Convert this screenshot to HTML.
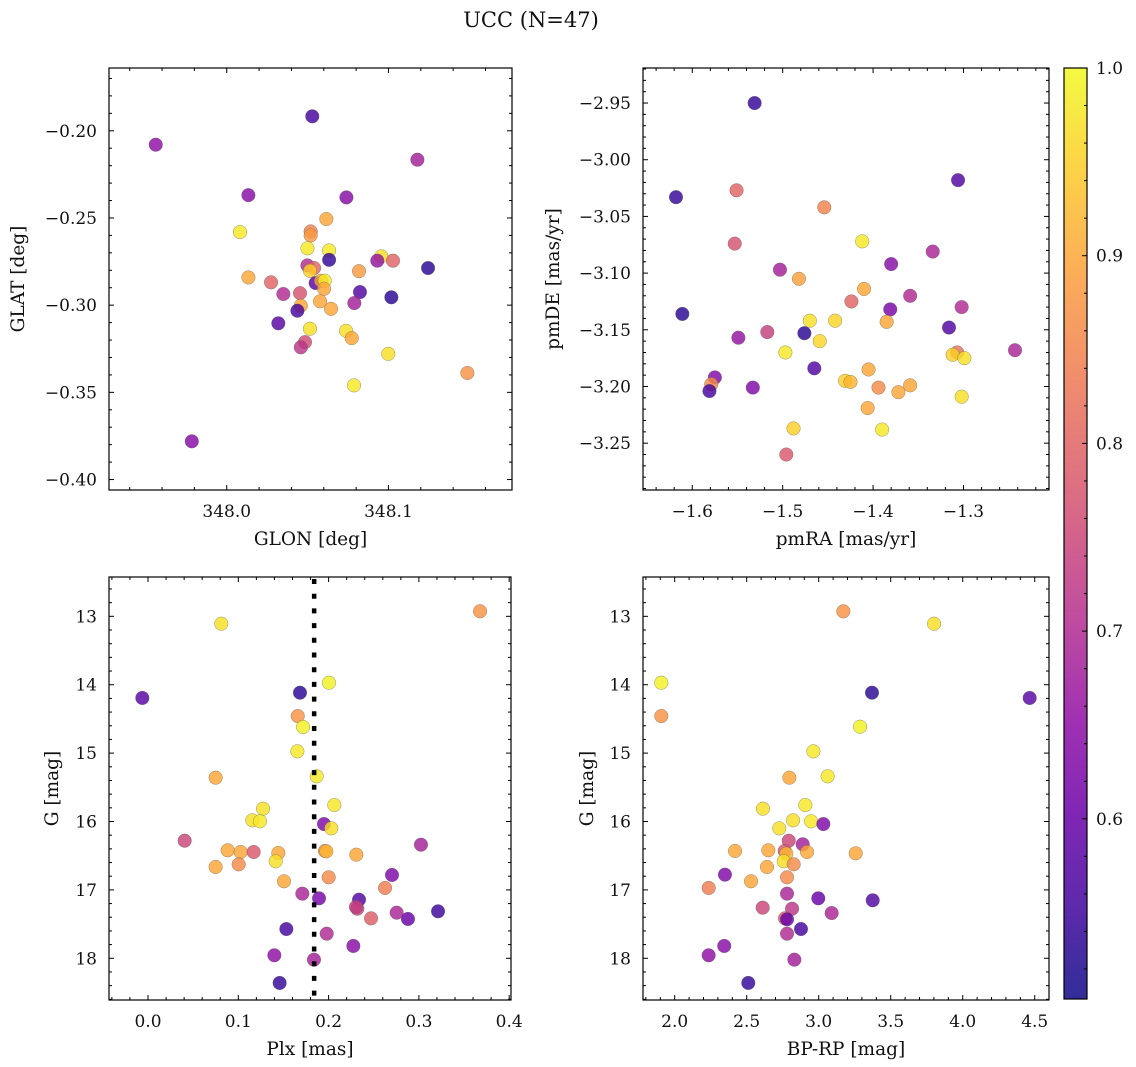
<!DOCTYPE html>
<html><head><meta charset="utf-8"><style>
html,body{margin:0;padding:0;background:#fff;}
svg{display:block;font-family:"DejaVu Serif","Liberation Serif",serif;}
</style></head><body>
<svg id="fig" width="1136" height="1067" viewBox="0 0 1136 1067" xmlns="http://www.w3.org/2000/svg">
<text x="531" y="27" font-size="21" text-anchor="middle" fill="#111">UCC (N=47)</text>
</svg>
<script>
// ---- Panel 1 data: GLON / GLAT / membership probability
const glonP1=[348.0529,347.9561,348.1179,348.0134,348.0740,348.0616,348.0082,348.0519,348.0519,348.0499,348.0633,348.0633,348.0956,348.0931,348.1028,348.1245,348.0499,348.0540,348.0515,348.0818,348.0134,348.0274,348.0550,348.0583,348.0606,348.0602,348.0350,348.0453,348.0824,348.0577,348.1018,348.0789,348.0458,348.0437,348.0645,348.0319,348.0515,348.0738,348.0773,348.0484,348.0458,348.0999,348.1488,348.0787,347.9784];
const glatP1=[-0.1917,-0.2080,-0.2166,-0.2369,-0.2382,-0.2506,-0.2581,-0.2577,-0.2600,-0.2674,-0.2686,-0.2740,-0.2720,-0.2745,-0.2745,-0.2787,-0.2772,-0.2787,-0.2803,-0.2805,-0.2841,-0.2869,-0.2873,-0.2860,-0.2860,-0.2906,-0.2936,-0.2931,-0.2925,-0.2978,-0.2955,-0.2988,-0.3003,-0.3032,-0.3021,-0.3104,-0.3135,-0.3147,-0.3189,-0.3212,-0.3242,-0.3279,-0.3389,-0.3460,-0.3781];
const probP1=[0.56,0.65,0.68,0.64,0.64,0.9,0.98,0.85,0.88,0.98,0.98,0.54,0.97,0.66,0.8,0.53,0.7,0.8,0.95,0.88,0.9,0.8,0.58,0.9,0.98,0.9,0.7,0.77,0.57,0.9,0.53,0.68,0.9,0.56,0.9,0.58,0.97,0.97,0.9,0.76,0.72,0.97,0.87,0.98,0.64];
// ---- Panel 2 data: pmRA / pmDE
const pmraP2=[-1.531,-1.306,-1.618,-1.551,-1.454,-1.553,-1.412,-1.334,-1.380,-1.503,-1.482,-1.410,-1.359,-1.424,-1.381,-1.302,-1.611,-1.470,-1.442,-1.385,-1.316,-1.476,-1.517,-1.549,-1.459,-1.497,-1.307,-1.312,-1.299,-1.243,-1.465,-1.405,-1.575,-1.579,-1.581,-1.431,-1.425,-1.533,-1.394,-1.372,-1.359,-1.302,-1.406,-1.488,-1.390,-1.496];
const pmdeP2=[-2.950,-3.018,-3.033,-3.027,-3.042,-3.074,-3.072,-3.081,-3.092,-3.097,-3.105,-3.114,-3.120,-3.125,-3.132,-3.130,-3.136,-3.142,-3.142,-3.143,-3.148,-3.153,-3.152,-3.157,-3.160,-3.170,-3.170,-3.172,-3.175,-3.168,-3.184,-3.185,-3.192,-3.198,-3.204,-3.195,-3.196,-3.201,-3.201,-3.205,-3.199,-3.209,-3.219,-3.237,-3.238,-3.260];
const probP2=[0.54,0.57,0.54,0.8,0.85,0.77,0.98,0.69,0.64,0.68,0.89,0.9,0.7,0.8,0.62,0.7,0.53,0.97,0.96,0.9,0.57,0.53,0.74,0.66,0.96,0.98,0.82,0.95,0.97,0.69,0.57,0.9,0.63,0.86,0.56,0.95,0.92,0.63,0.86,0.9,0.9,0.97,0.9,0.95,0.98,0.78];
// ---- Panel 3 data: Plx / G
const plxP3=[0.3677,0.0812,-0.0063,0.1683,0.2004,0.1658,0.1717,0.1654,0.0749,0.1868,0.1274,0.2063,0.1155,0.1240,0.1949,0.2030,0.0406,0.3023,0.0882,0.1026,0.1170,0.1443,0.1960,0.1975,0.2307,0.1414,0.0749,0.1004,0.2702,0.2001,0.1506,0.2625,0.1709,0.1894,0.2337,0.2318,0.2303,0.2470,0.2754,0.2879,0.3212,0.1532,0.1979,0.2274,0.1399,0.1838,0.1458];
const gP3=[12.927,13.108,14.194,14.117,13.971,14.458,14.618,14.974,15.359,15.339,15.813,15.759,15.983,15.997,16.037,16.100,16.281,16.339,16.421,16.446,16.446,16.460,16.431,16.436,16.485,16.582,16.665,16.626,16.782,16.816,16.874,16.972,17.055,17.123,17.143,17.275,17.25,17.416,17.333,17.425,17.313,17.572,17.640,17.820,17.956,18.020,18.361];
const probP3=[0.87,0.97,0.58,0.53,0.99,0.87,0.99,0.98,0.9,0.98,0.97,0.98,0.97,0.98,0.63,0.97,0.75,0.68,0.9,0.9,0.78,0.9,0.87,0.92,0.9,0.97,0.9,0.86,0.63,0.86,0.9,0.84,0.69,0.62,0.57,0.75,0.73,0.79,0.69,0.6,0.55,0.56,0.7,0.64,0.65,0.68,0.54];
const plxMarker=[0.184];
// ---- Panel 4 data: BP-RP / G
const bprpP4=[3.171,3.801,1.907,1.907,3.370,4.465,3.287,2.963,2.796,3.062,2.613,2.907,2.822,2.947,3.032,2.726,2.792,2.889,2.419,2.650,2.764,2.919,2.775,3.257,2.757,2.641,2.826,2.349,2.780,2.530,2.236,2.780,2.997,3.375,2.611,2.815,3.090,2.766,2.780,2.877,2.780,2.344,2.236,2.831,2.511];
const gP4=[12.927,13.108,13.971,14.458,14.117,14.194,14.614,14.974,15.359,15.339,15.813,15.759,15.983,15.997,16.037,16.100,16.281,16.333,16.431,16.421,16.431,16.446,16.470,16.465,16.582,16.665,16.626,16.777,16.816,16.874,16.972,17.055,17.123,17.152,17.260,17.275,17.338,17.416,17.430,17.572,17.640,17.820,17.956,18.020,18.361];
const probP4=[0.87,0.97,0.99,0.87,0.53,0.58,0.99,0.98,0.9,0.98,0.97,0.98,0.97,0.98,0.63,0.97,0.75,0.68,0.9,0.9,0.78,0.9,0.92,0.9,0.97,0.9,0.86,0.63,0.86,0.9,0.84,0.69,0.6,0.57,0.75,0.72,0.69,0.79,0.6,0.56,0.7,0.64,0.65,0.68,0.54];
// ---- tick labels
const ticksP1x=[348.0,348.1], ticksP1y=[-0.40,-0.35,-0.30,-0.25,-0.20];
const ticksP2x=[-1.6,-1.5,-1.4,-1.3], ticksP2y=[-3.25,-3.20,-3.15,-3.10,-3.05,-3.00,-2.95];
const ticksP3x=[0.0,0.1,0.2,0.3,0.4], ticksGy=[13,14,15,16,17,18];
const ticksP4x=[2.0,2.5,3.0,3.5,4.0,4.5];
const ticksCbar=[0.6,0.7,0.8,0.9,1.0];

const NS="http://www.w3.org/2000/svg";
const svg=document.getElementById('fig');
function mk(tag,attrs,parent){const e=document.createElementNS(NS,tag);for(const k in attrs)e.setAttribute(k,attrs[k]);(parent||svg).appendChild(e);return e;}
const VMIN=0.504,VMAX=1.0;
const PL=[[13,8,135],[65,4,157],[106,0,168],[143,13,164],[177,42,144],[204,71,120],[225,100,98],[242,132,75],[252,166,54],[252,206,37],[240,249,33]];
function plasma(t){t=Math.max(0,Math.min(1,t));const f=t*10,i=Math.min(9,Math.floor(f)),u=f-i;const a=PL[i],b=PL[i+1];return 'rgb('+a.map((v,k)=>Math.round(v+(b[k]-v)*u)).join(',')+')';}
function cmap(p){return plasma((p-VMIN)/(VMAX-VMIN));}

function panel(o){
  const g=mk('g',{});
  
  
  const sx=v=>o.x0+(v-o.xmin)/(o.xmax-o.xmin)*(o.x1-o.x0);
  const sy=o.invert? v=>o.y0+(v-o.ymin)/(o.ymax-o.ymin)*(o.y1-o.y0) : v=>o.y1-(v-o.ymin)/(o.ymax-o.ymin)*(o.y1-o.y0);
  const tg=mk('g',{stroke:'#000','stroke-width':1},g);
  const eps=1e-9;
  function tickRange(min,max,step){const r=[];let s=Math.ceil((min-eps)/step);for(let v=s*step;v<=max+eps;v=(++s)*step)r.push(v);return r;}
  tickRange(o.xmin,o.xmax,o.xminor).forEach(v=>{const x=sx(v);const maj=Math.abs(v/o.xmajor-Math.round(v/o.xmajor))<1e-6;const L=maj?5:3;
    mk('line',{x1:x,x2:x,y1:o.y1,y2:o.y1-L},tg);mk('line',{x1:x,x2:x,y1:o.y0,y2:o.y0+L},tg);});
  tickRange(o.ymin,o.ymax,o.yminor).forEach(v=>{const y=sy(v);const maj=Math.abs(v/o.ymajor-Math.round(v/o.ymajor))<1e-6;const L=maj?5:3;
    mk('line',{x1:o.x0,x2:o.x0+L,y1:y,y2:y},tg);mk('line',{x1:o.x1,x2:o.x1-L,y1:y,y2:y},tg);});
  o.xt.forEach(v=>{const t=mk('text',{x:sx(v),y:o.y1+27,'font-size':17,'text-anchor':'middle',fill:'#111'},g);t.textContent=o.fx(v);
    });
  o.yt.forEach(v=>{const t=mk('text',{x:o.x0-12,y:sy(v)+6,'font-size':17,'text-anchor':'end',fill:'#111'},g);t.textContent=o.fy(v);
    });
  const xl=mk('text',{x:(o.x0+o.x1)/2,y:o.y1+55,'font-size':18.5,'text-anchor':'middle',fill:'#111'},g);xl.textContent=o.xlabel;
  
  const yx=o.ylx,yy=(o.y0+o.y1)/2;
  const yl=mk('text',{x:yx,y:yy,'font-size':18.5,'text-anchor':'middle',fill:'#111',transform:'rotate(-90 '+yx+' '+yy+')'},g);yl.textContent=o.ylabel;
  
  const pg=mk('g',{},g);
  o.xs.forEach((v,i)=>{const c=mk('circle',{cx:sx(v),cy:sy(o.ys[i]),r:6.8,fill:cmap(o.cs[i]),'fill-opacity':0.82,stroke:'#555','stroke-width':0.5,'stroke-opacity':0.6},pg);
    });
  if(o.vline){o.vline.forEach(v=>{const l=mk('line',{x1:sx(v),x2:sx(v),y1:o.y0+2,y2:o.y1,stroke:'#000','stroke-width':4.5,'stroke-dasharray':'5 9.7'},g);
    });}
  mk('rect',{x:o.x0,y:o.y0,width:o.x1-o.x0,height:o.y1-o.y0,fill:'none',stroke:'#000','stroke-width':1.2},g);
}
const f1=v=>v.toFixed(1), f2=v=>v.toFixed(2).replace('-','\u2212'), f1m=v=>v.toFixed(1).replace('-','\u2212'), f0=v=>v.toFixed(0);
panel({name:'panel-glon-glat',x0:109,x1:512,y0:68,y1:490,xmin:347.9272,xmax:348.1764,ymin:-0.4060,ymax:-0.1640,
  xminor:0.02,xmajor:0.1,yminor:0.01,ymajor:0.05,xt:ticksP1x,yt:ticksP1y,fx:f1,fy:f2,xlabel:'GLON [deg]',ylabel:'GLAT [deg]',ylx:24,
  xs:glonP1,ys:glatP1,cs:probP1});
panel({name:'panel-pmra-pmde',x0:643,x1:1049,y0:68,y1:490,xmin:-1.6545,xmax:-1.2054,ymin:-3.2913,ymax:-2.9191,
  xminor:0.02,xmajor:0.1,yminor:0.01,ymajor:0.05,xt:ticksP2x,yt:ticksP2y,fx:f1m,fy:f2,xlabel:'pmRA [mas/yr]',ylabel:'pmDE [mas/yr]',ylx:559,
  xs:pmraP2,ys:pmdeP2,cs:probP2});
panel({name:'panel-plx-g',x0:109,x1:511,y0:577,y1:1000,xmin:-0.0432,xmax:0.4020,ymin:12.425,ymax:18.610,invert:true,
  xminor:0.02,xmajor:0.1,yminor:0.2,ymajor:1,xt:ticksP3x,yt:ticksGy,fx:f1,fy:f0,xlabel:'Plx [mas]',ylabel:'G [mag]',ylx:58,
  xs:plxP3,ys:gP3,cs:probP3,vline:plxMarker});
panel({name:'panel-bprp-g',x0:643,x1:1049,y0:577,y1:1000,xmin:1.780,xmax:4.599,ymin:12.425,ymax:18.610,invert:true,
  xminor:0.1,xmajor:0.5,yminor:0.2,ymajor:1,xt:ticksP4x,yt:ticksGy,fx:f1,fy:f0,xlabel:'BP-RP [mag]',ylabel:'G [mag]',ylx:593,
  xs:bprpP4,ys:gP4,cs:probP4});

const cb=mk('g',{});


const defs=mk('defs',{},cb);
const lg=mk('linearGradient',{id:'cbg',x1:0,y1:1,x2:0,y2:0},defs);
for(let i=0;i<=20;i++){mk('stop',{offset:(i/20),'stop-color':plasma(i/20),'stop-opacity':0.85},lg);}
const CX0=1064,CX1=1087,CY0=68,CY1=999;
mk('rect',{x:CX0,y:CY0,width:CX1-CX0,height:CY1-CY0,fill:'url(#cbg)',stroke:'#000','stroke-width':1.2},cb);
const cy=v=>CY1-(v-VMIN)/(VMAX-VMIN)*(CY1-CY0);
for(let v=0.52;v<=1.0001;v+=0.02){const y=cy(v);const maj=Math.abs(v*10-Math.round(v*10))<1e-6;mk('line',{x1:CX1,x2:CX1-(maj?5:3),y1:y,y2:y,stroke:'#000','stroke-width':1},cb);}
ticksCbar.forEach(v=>{const t=mk('text',{x:CX1+9,y:cy(v)+6,'font-size':17,fill:'#111'},cb);t.textContent=v.toFixed(1);
  });
</script>
</body></html>
